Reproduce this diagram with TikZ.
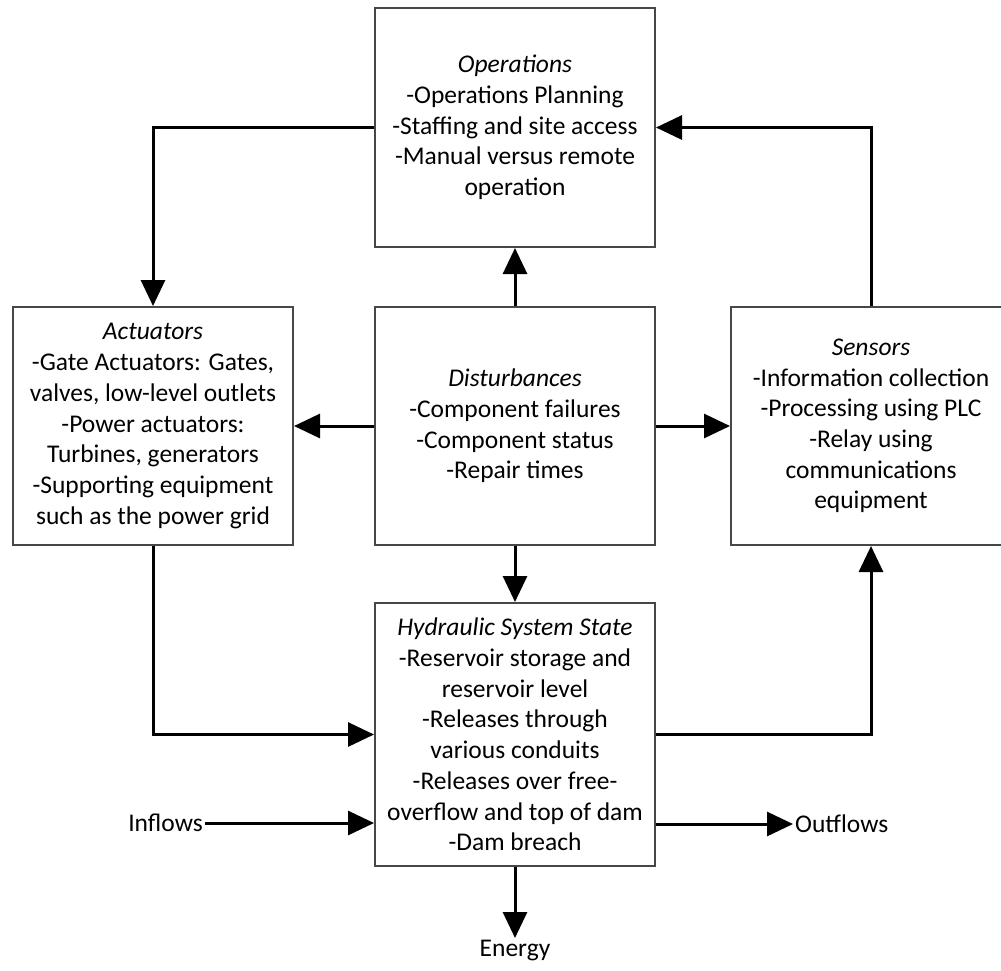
\documentclass[tikz,border=0pt]{standalone}
\usepackage{fontspec}
\setmainfont{Carlito}
\usetikzlibrary{arrows.meta}
\tikzset{
  block/.style={draw=black!72, line width=2pt, fill=white, align=center,
    inner sep=0pt, minimum width=280pt, minimum height=238pt,
    font=\fontsize{25.5}{30.7}\selectfont},
  label/.style={inner sep=2pt, font=\fontsize{25.5}{30.7}\selectfont},
  conn/.style={draw=black, line width=3pt,
    -{Triangle[length=26pt,width=24pt]}},
}
\begin{document}
\begin{tikzpicture}[x=1pt,y=-1pt]
\useasboundingbox (0,0) rectangle (1001,970);

% boxes
\node[block, minimum height=239pt] (ops) at (515,127.5)
  {\textit{Operations}\\-Operations Planning\\-Staffing and site access\\-Manual versus remote\\operation};
\node[block] (act) at (153,426)
  {\textit{Actuators}\\-Gate Actuators: Gates,\\valves, low-level outlets\\-Power actuators:\\Turbines, generators\\-Supporting equipment\\such as the power grid};
\node[block] (dist) at (515,426)
  {\textit{Disturbances}\\-Component failures\\-Component status\\-Repair times};
\node[block] (sens) at (871,426)
  {\textit{Sensors}\\-Information collection\\-Processing using PLC\\-Relay using\\communications\\equipment};
\node[block, minimum height=263pt] (hyd) at (515,734.5)
  {\textit{Hydraulic System State}\\-Reservoir storage and\\reservoir level\\-Releases through\\various conduits\\-Releases over free-\\overflow and top of dam\\-Dam breach};

% free labels
\node[label, anchor=east] (inflows) at (205,823) {Inflows};
\node[label, anchor=west] (outflows) at (793,824) {Outflows};
\node[label, anchor=north] (energy) at (515,938) {Energy};

% connectors
\draw[conn] (ops.west) -| (act.north);
\draw[conn] (sens.north) |- (ops.east);
\draw[conn] (dist.north) -- (ops.south);
\draw[conn] (dist.west) -- (act.east);
\draw[conn] (dist.east) -- (sens.west);
\draw[conn] (dist.south) -- (hyd.north);
\draw[conn] (act.south) |- (hyd.west);
\draw[conn] (hyd.east) -| (sens.south);
\draw[conn] (inflows.east) -- (inflows.east -| hyd.west);
\draw[conn] (outflows.west -| hyd.east) -- (outflows.west);
\draw[conn] (hyd.south) -- (energy.north);
\end{tikzpicture}
\end{document}
